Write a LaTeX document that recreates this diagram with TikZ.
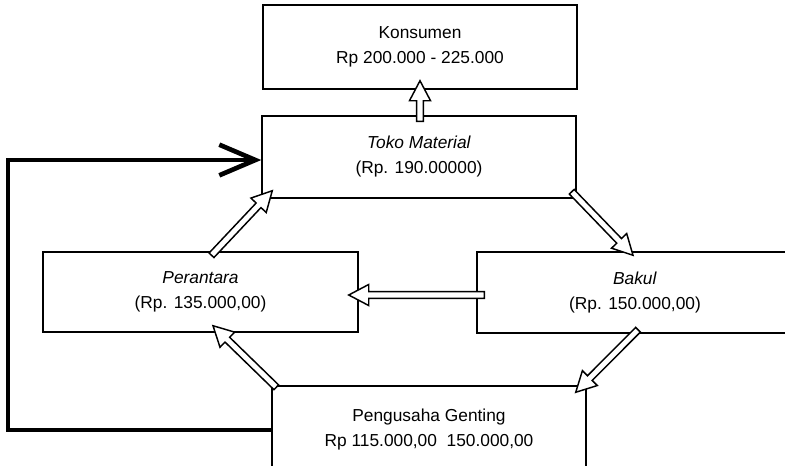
\documentclass[tikz,border=0pt]{standalone}
\usepackage{fontspec}
\setmainfont{Liberation Sans}
\usetikzlibrary{calc,arrows.meta}

\tikzset{
  box/.style={draw, line width=1.1pt, align=center, inner sep=0pt,
    minimum width=235.5pt, font=\fontsize{13}{18.75}\selectfont},
  hollow/.style={draw, fill=white, line width=1.1pt, line join=miter,
    to path={let \p1=(\tikztostart), \p2=(\tikztotarget),
      \p3=($(\p2)!15pt!(\p1)$) in
      ($(\p1)!2.5pt!90:(\p2)$) -- ($(\p3)!2.5pt!-90:(\p1)$)
      -- ($(\p3)!7.9pt!-90:(\p1)$) -- (\p2)
      -- ($(\p3)!7.9pt!90:(\p1)$) -- ($(\p3)!2.5pt!90:(\p1)$)
      -- ($(\p1)!2.5pt!-90:(\p2)$) -- cycle}},
  feed/.style={line width=3.5pt, -{Straight Barb[length=27pt,width=23pt]}}
}

\begin{document}
\begin{tikzpicture}[x=0.75pt, y=-0.75pt]
  \useasboundingbox (0,0) rectangle (785,465);
  % price boxes
  \node[box, minimum height=63pt] (ks) at (420,47) {Konsumen\\Rp 200.000 - 225.000};
  \node[box, minimum height=61.5pt] (tk) at (419,157) {\textit{Toko Material}\\(Rp. 190.00000)};
  \node[box, minimum width=236.25pt, minimum height=60pt] (pr) at (200.5,292) {\textit{Perantara}\\(Rp. 135.000,00)};
  \node[box, minimum width=237pt, minimum height=60.75pt] (bk) at (635,292.5) {\textit{Bakul}\\(Rp. 150.000,00)};
  \node[box, minimum height=66pt] (pg) at (429,430) {Pengusaha Genting\\Rp 115.000,00\ \ 150.000,00};
  % direct line
  \coordinate (corner) at (8,430);
  \draw[feed] (pg.west) -- (corner) |- ($(tk.west)+(0,3)$);
  % flows
  \draw[hollow] ($(tk.north)+(1,6)$) to ($(ks.south)+(0,-9)$);
  \draw[hollow] ($(pr.north)+(11,4)$) to ($(tk.south west)+(11,-8)$);
  \draw[hollow] ($(tk.south east)+(-5,-7)$) to ($(bk.north)+(-2,4)$);
  \draw[hollow] ($(bk.west)+(8,2.5)$) to ($(pr.east)+(-10,3)$);
  \draw[hollow] ($(bk.south)+(3,-4)$) to ($(pg.north east)+(-11,7)$);
  \draw[hollow] ($(pg.north west)+(5,2)$) to ($(pr.south)+(12.5,-7)$);
\end{tikzpicture}
\end{document}
